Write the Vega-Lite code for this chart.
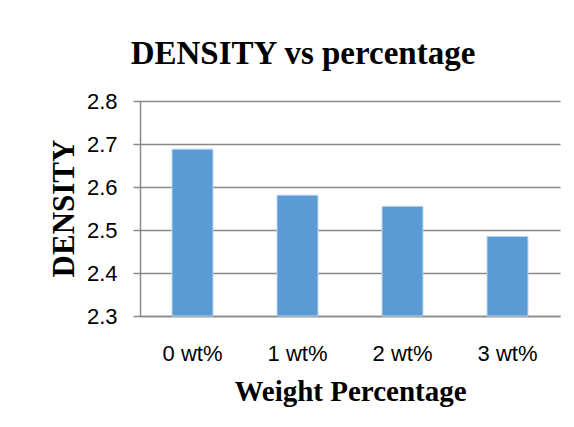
{
  "$schema": "https://vega.github.io/schema/vega-lite/v6.json",
  "autosize": "none",
  "width": 420,
  "height": 215,
  "padding": {"left": 140, "top": 101, "right": 14, "bottom": 111},
  "background": "white",
  "title": {
    "text": "DENSITY vs percentage",
    "font": "Liberation Serif",
    "fontWeight": "bold",
    "fontSize": 33,
    "color": "#000000",
    "anchor": "middle",
    "frame": "group",
    "baseline": "alphabetic",
    "offset": 22,
    "dx": -47,
    "dy": 29
  },
  "data": {
    "values": [
      {"percentage": "0 wt%", "density": 2.688},
      {"percentage": "1 wt%", "density": 2.581},
      {"percentage": "2 wt%", "density": 2.555},
      {"percentage": "3 wt%", "density": 2.485}
    ]
  },
  "mark": {"type": "bar", "color": "#5B9BD5", "stroke": "#B9D3EE", "strokeWidth": 1},
  "encoding": {
    "x": {
      "field": "percentage",
      "type": "nominal",
      "sort": null,
      "scale": {"paddingInner": 0.61, "paddingOuter": 0.305},
      "axis": {
        "title": "Weight Percentage",
        "labelAngle": 0,
        "labelFont": "Liberation Sans",
        "labelFontSize": 22,
        "labelColor": "#000000",
        "labelBaseline": "alphabetic",
        "labelPadding": 44,
        "ticks": false,
        "tickSize": 0,
        "domainColor": "#898989",
        "domainWidth": 1.5,
        "titleFont": "Liberation Serif",
        "titleFontWeight": "bold",
        "titleFontSize": 29,
        "titleColor": "#000000",
        "titleBaseline": "alphabetic",
        "titleY": 84
      }
    },
    "y": {
      "field": "density",
      "type": "quantitative",
      "scale": {"domain": [2.3, 2.8], "zero": false, "nice": false},
      "axis": {
        "title": "DENSITY",
        "values": [2.3, 2.4, 2.5, 2.6, 2.7, 2.8],
        "format": ".1f",
        "labelFont": "Liberation Sans",
        "labelFontSize": 22,
        "labelColor": "#000000",
        "labelPadding": 16,
        "tickSize": 7,
        "tickColor": "#898989",
        "tickWidth": 1.5,
        "domainColor": "#898989",
        "domainWidth": 1.5,
        "grid": true,
        "gridColor": "#898989",
        "gridWidth": 1.5,
        "titleFont": "Liberation Serif",
        "titleFontWeight": "bold",
        "titleFontSize": 31,
        "titleColor": "#000000",
        "titleBaseline": "alphabetic",
        "titleAngle": -90,
        "titleX": -67,
        "titleY": 107
      }
    },
    "y2": {"datum": 2.3}
  },
  "config": {"view": {"stroke": null}}
}
